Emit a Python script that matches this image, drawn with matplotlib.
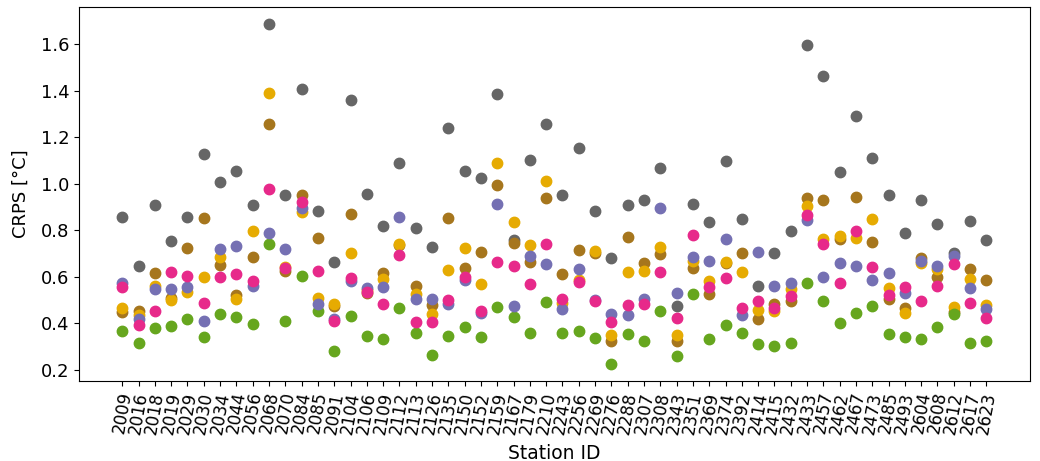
import matplotlib
matplotlib.use("Agg")
import matplotlib.pyplot as plt
import numpy as np

stations = ["2009", "2016", "2018", "2019", "2029", "2030", "2034", "2044", "2056", "2068",
            "2070", "2084", "2085", "2091", "2104", "2106", "2109", "2112", "2113", "2126",
            "2135", "2150", "2152", "2159", "2167", "2179", "2210", "2243", "2256", "2269",
            "2276", "2288", "2307", "2308", "2343", "2351", "2369", "2374", "2392", "2414",
            "2415", "2432", "2433", "2457", "2462", "2467", "2473", "2485", "2493", "2604",
            "2608", "2612", "2617", "2623"]

crps_grey = [0.858, 0.648, 0.908, 0.754, 0.858, 1.127, 1.008, 1.055, 0.908, 1.688,
             0.951, 1.409, 0.882, 0.662, 1.362, 0.958, 0.818, 1.090, 0.808, 0.729,
             1.241, 1.054, 1.025, 1.385, 0.758, 1.104, 1.259, 0.951, 1.154, 0.882,
             0.682, 0.911, 0.930, 1.070, 0.476, 0.913, 0.834, 1.098, 0.849, 0.562,
             0.704, 0.797, 1.598, 1.466, 1.051, 1.294, 1.111, 0.951, 0.787, 0.930,
             0.829, 0.704, 0.841, 0.758]
crps_brown = [0.450, 0.453, 0.618, 0.510, 0.722, 0.851, 0.651, 0.520, 0.686, 1.256,
              0.625, 0.951, 0.765, 0.476, 0.870, 0.529, 0.618, 0.738, 0.561, 0.479,
              0.851, 0.639, 0.708, 0.994, 0.746, 0.665, 0.941, 0.612, 0.715, 0.701,
              0.324, 0.770, 0.658, 0.698, 0.326, 0.636, 0.526, 0.658, 0.704, 0.417,
              0.483, 0.498, 0.940, 0.930, 0.761, 0.944, 0.748, 0.505, 0.465, 0.679,
              0.601, 0.450, 0.635, 0.586]
crps_gold = [0.465, 0.436, 0.561, 0.500, 0.536, 0.601, 0.686, 0.503, 0.797, 1.392,
             0.643, 0.877, 0.508, 0.482, 0.704, 0.545, 0.589, 0.741, 0.525, 0.439,
             0.629, 0.725, 0.568, 1.091, 0.834, 0.739, 1.011, 0.489, 0.586, 0.712,
             0.350, 0.622, 0.626, 0.729, 0.350, 0.668, 0.582, 0.662, 0.619, 0.458,
             0.451, 0.546, 0.904, 0.761, 0.775, 0.765, 0.848, 0.550, 0.446, 0.661,
             0.632, 0.472, 0.592, 0.479]
crps_green = [0.365, 0.317, 0.382, 0.390, 0.417, 0.340, 0.440, 0.429, 0.397, 0.741,
              0.409, 0.605, 0.455, 0.279, 0.432, 0.346, 0.334, 0.465, 0.360, 0.264,
              0.347, 0.386, 0.340, 0.472, 0.429, 0.360, 0.490, 0.357, 0.365, 0.336,
              0.226, 0.354, 0.322, 0.455, 0.258, 0.526, 0.332, 0.393, 0.357, 0.310,
              0.303, 0.314, 0.575, 0.496, 0.403, 0.446, 0.475, 0.354, 0.343, 0.332,
              0.386, 0.440, 0.314, 0.324]
crps_purple = [0.572, 0.417, 0.546, 0.549, 0.555, 0.410, 0.718, 0.732, 0.561, 0.787,
               0.718, 0.894, 0.483, 0.417, 0.583, 0.550, 0.558, 0.858, 0.505, 0.503,
               0.483, 0.587, 0.443, 0.915, 0.475, 0.689, 0.655, 0.460, 0.632, 0.500,
               0.440, 0.436, 0.505, 0.894, 0.529, 0.686, 0.669, 0.761, 0.436, 0.708,
               0.562, 0.575, 0.844, 0.601, 0.658, 0.646, 0.586, 0.615, 0.529, 0.669,
               0.648, 0.689, 0.551, 0.462]
crps_pink = [0.558, 0.393, 0.455, 0.621, 0.603, 0.489, 0.601, 0.612, 0.582, 0.980,
             0.639, 0.920, 0.626, 0.410, 0.596, 0.536, 0.483, 0.696, 0.407, 0.407,
             0.500, 0.601, 0.455, 0.662, 0.648, 0.569, 0.741, 0.503, 0.579, 0.496,
             0.405, 0.479, 0.483, 0.622, 0.422, 0.779, 0.555, 0.593, 0.465, 0.498,
             0.465, 0.518, 0.865, 0.741, 0.572, 0.798, 0.643, 0.522, 0.555, 0.496,
             0.562, 0.654, 0.486, 0.422]

series = [
    (crps_grey, "#666666"),
    (crps_brown, "#a6761d"),
    (crps_gold, "#e6ab02"),
    (crps_green, "#66a61e"),
    (crps_purple, "#7570b3"),
    (crps_pink, "#e7298a"),
]

fig, ax = plt.subplots(figsize=(10.4, 4.61), dpi=100)
fig.subplots_adjust(left=0.076, right=0.990, top=0.985, bottom=0.174)

x = np.arange(len(stations))
for vals, col in series:
    ax.plot(x, vals, "o", color=col, markersize=7.5, markeredgewidth=1)

ax.set_xticks(x)
ax.set_xticklabels(stations, rotation=80, ha="center")
ax.tick_params(axis="y", labelsize=13)
ax.tick_params(axis="x", labelsize=12)
ax.set_xlabel("Station ID", fontsize=13.5, labelpad=6)
ax.set_ylabel("CRPS [°C]", fontsize=13, labelpad=8)
ax.set_yticks([0.2, 0.4, 0.6, 0.8, 1.0, 1.2, 1.4, 1.6])

fig.savefig("out.png", dpi=100)
